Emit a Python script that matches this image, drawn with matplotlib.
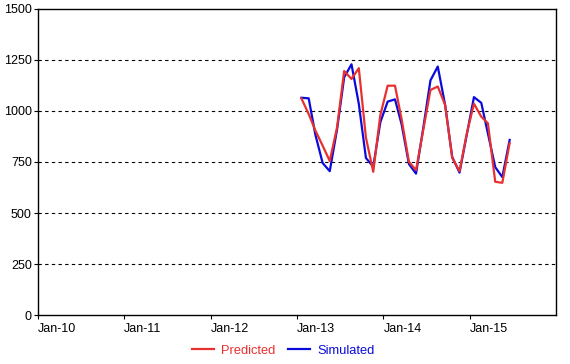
import pandas as pd
import matplotlib
matplotlib.use('Agg')
import matplotlib.pyplot as plt

plt.rcParams['font.family'] = ['Liberation Sans', 'DejaVu Sans']

# monthly values, Jan-13 .. Jun-15
months = pd.date_range('2013-01-01', periods=30, freq='MS') + pd.Timedelta(days=18)
predicted = [1062, 985, 905, 830, 755, 920, 1196, 1157, 1210, 870,
             702, 980, 1124, 1124, 960, 751, 710, 910, 1103, 1120,
             1030, 770, 705, 885, 1036, 972, 940, 653, 648, 843]
simulated = [1065, 1062, 885, 745, 705, 910, 1165, 1229, 1035, 770,
             727, 945, 1046, 1057, 935, 740, 693, 920, 1150, 1218,
             1030, 775, 698, 880, 1068, 1040, 890, 725, 676, 858]

year_ticks = pd.date_range('2010-01-01', '2015-01-01', freq='YS')
year_labels = ['Jan-10', 'Jan-11', 'Jan-12', 'Jan-13', 'Jan-14', 'Jan-15']
y_ticks = [0, 250, 500, 750, 1000, 1250, 1500]

fig = plt.figure(figsize=(5.7, 3.64), dpi=100)
ax = fig.add_axes([0.0667, 0.1346, 0.9087, 0.8407])

ax.plot(months, predicted, color='#e8312f', lw=1.6, label='Predicted', zorder=3)
ax.plot(months, simulated, color='#0a0adc', lw=1.6, label='Simulated', zorder=2)

ax.set_xlim(pd.Timestamp('2010-01-01'), pd.Timestamp('2016-01-01'))
ax.set_ylim(0, 1500)
ax.set_yticks(y_ticks)
ax.set_xticks(year_ticks)
ax.set_xticklabels(year_labels, ha='left')
ax.tick_params(axis='both', direction='out', length=3, width=0.8, pad=1.5,
               labelsize=9, colors='black')
ax.tick_params(axis='x', pad=3)

for v in y_ticks[1:-1]:
    ax.axhline(v, color='black', lw=0.8, ls=(0, (3, 3)), zorder=1)

for s in ax.spines.values():
    s.set_linewidth(1.0)
    s.set_color('black')

fig.legend(loc='lower center', bbox_to_anchor=(0.497, -0.012), ncol=2,
           frameon=False, fontsize=9.3, handlelength=1.68, columnspacing=0.95,
           handletextpad=0.57, labelcolor='linecolor')

fig.savefig('out.png', dpi=100)
